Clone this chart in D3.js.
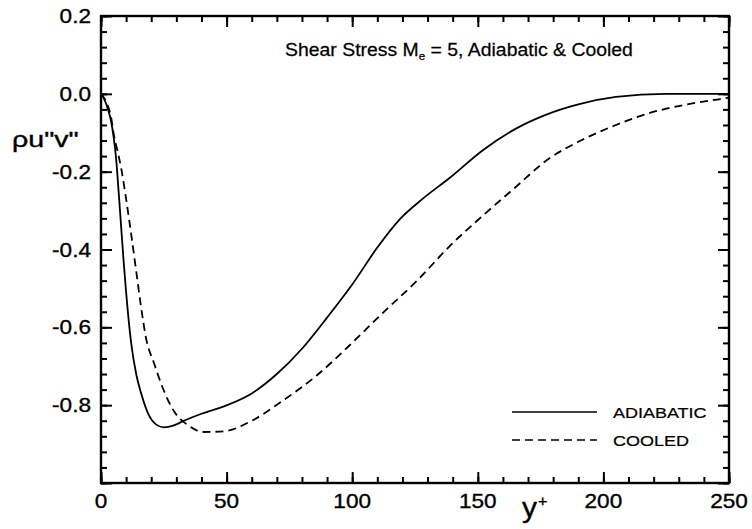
<!DOCTYPE html>
<html>
<head>
<meta charset="utf-8">
<script src="https://cdn.jsdelivr.net/npm/d3@7"></script>
<style>
  html, body { margin: 0; padding: 0; background: #fff; }
  svg { display: block; }
  text { font-family: "Liberation Sans", Arial, Helvetica, sans-serif; fill: #000; stroke: #000; stroke-width: 0.35px; }
</style>
</head>
<body>
<svg id="chart" width="752" height="529"></svg>
<script>
// ---- data ----
const adiabaticX = [0, 1, 2, 3, 4, 5, 6, 7, 8, 9, 10, 12, 14, 16, 19, 22, 25, 29, 33, 40, 49, 60, 70, 80, 90, 100, 110, 119, 128, 139, 152, 165, 177, 190, 205, 225, 250];
const adiabaticY = [0, -0.01, -0.025, -0.045, -0.07, -0.11, -0.165, -0.25, -0.34, -0.43, -0.51, -0.64, -0.72, -0.77, -0.825, -0.85, -0.857, -0.852, -0.84, -0.822, -0.803, -0.77, -0.72, -0.655, -0.575, -0.49, -0.395, -0.322, -0.27, -0.215, -0.145, -0.09, -0.054, -0.027, -0.008, 0.0, 0.0];
const cooledX = [0, 2, 4, 5.2, 6.5, 8, 10, 12, 14, 16, 18, 21, 24.6, 29, 34.5, 41, 49, 60, 72, 86, 99, 112, 126, 139, 152, 165, 178, 191, 205, 218, 231, 246, 250];
const cooledY = [0, -0.02, -0.06, -0.108, -0.145, -0.19, -0.27, -0.36, -0.455, -0.55, -0.63, -0.69, -0.756, -0.815, -0.851, -0.869, -0.867, -0.84, -0.79, -0.723, -0.646, -0.564, -0.479, -0.39, -0.313, -0.24, -0.168, -0.12, -0.08, -0.05, -0.03, -0.014, -0.01];

const xTickLabels = ["0", "50", "100", "150", "200", "250"];
const yTickLabels = ["0.2", "0.0", "-0.2", "-0.4", "-0.6", "-0.8"];
const seriesNames = ["ADIABATIC", "COOLED"];
const titleMain = "Shear Stress M";
const titleSub = "e";
const titleRest = " = 5, Adiabatic & Cooled";

// ---- layout ----
const svg = d3.select("#chart");
const pLeft = 101, pRight = 729, pTop = 16, pBottom = 483;
const x = d3.scaleLinear().domain([0, 250]).range([pLeft, pRight]);
const y = d3.scaleLinear().domain([-1.0, 0.2]).range([pBottom, pTop]);
const SX = 1.13; // horizontal stretch of the scanned lettering

function stext(g, px, py, str, size, anchor, sx) {
  return g.append("g").attr("transform", `translate(${px},${py}) scale(${sx || SX},1)`)
    .append("text").attr("font-size", size).attr("text-anchor", anchor || "start").text(str);
}

// ---- ticks (inward on all four sides) via d3 axes ----
const xMinor = d3.range(0, 251, 10);
const xMajor = xTickLabels.map(Number);
const yMinor = d3.range(0, 31).map(i => +(-1.0 + i * 0.04).toFixed(2));
const yMajor = [0.2, 0.0, -0.2, -0.4, -0.6, -0.8, -1.0];

function addAxis(gen, transform, vals, size) {
  const g = svg.append("g").attr("transform", transform)
    .call(gen.tickValues(vals).tickSizeInner(-size).tickSizeOuter(0).tickPadding(0).tickFormat(() => ""));
  g.selectAll(".tick line").attr("stroke", "#000").style("stroke", "#000").style("stroke-width", "2px");
  g.select(".domain").remove();
  return g;
}
addAxis(d3.axisBottom(x), `translate(0,${pBottom})`, xMinor, 6);
addAxis(d3.axisBottom(x), `translate(0,${pBottom})`, xMajor, 11);
addAxis(d3.axisTop(x), `translate(0,${pTop})`, xMinor, 6);
addAxis(d3.axisTop(x), `translate(0,${pTop})`, xMajor, 11);
addAxis(d3.axisLeft(y), `translate(${pLeft},0)`, yMinor, 6);
addAxis(d3.axisLeft(y), `translate(${pLeft},0)`, yMajor, 11);
addAxis(d3.axisRight(y), `translate(${pRight},0)`, yMinor, 6);
addAxis(d3.axisRight(y), `translate(${pRight},0)`, yMajor, 11);

// ---- frame ----
svg.append("rect").attr("x", pLeft).attr("y", pTop)
  .attr("width", pRight - pLeft).attr("height", pBottom - pTop)
  .attr("fill", "none").attr("stroke", "#000").attr("stroke-width", 2.4);

// tick labels
xTickLabels.forEach(s => stext(svg, x(+s), 508, s, 20, "middle"));
yTickLabels.forEach(s => stext(svg, pLeft - 10, y(+s) + 7, s, 20, "end"));

// ---- curves ----
const line = d3.line().x(d => x(d[0])).y(d => y(d[1])).curve(d3.curveMonotoneX);
const adiabatic = adiabaticX.map((v, i) => [v, adiabaticY[i]]);
const cooled = cooledX.map((v, i) => [v, cooledY[i]]);
svg.append("path").datum(adiabatic).attr("d", line)
  .attr("fill", "none").attr("stroke", "#000").attr("stroke-width", 1.8);
svg.append("path").datum(cooled).attr("d", line)
  .attr("fill", "none").attr("stroke", "#000").attr("stroke-width", 1.8)
  .attr("stroke-dasharray", "8,5");

// ---- title ----
const tg = svg.append("g").attr("transform", `translate(285,56) scale(1.05,1)`);
const tt = tg.append("text").attr("font-size", 18.5).style("stroke-width", "0.25px");
tt.append("tspan").text(titleMain);
tt.append("tspan").attr("font-size", 11).attr("dy", 4).text(titleSub);
tt.append("tspan").attr("dy", -4).text(titleRest);

// ---- axis titles ----
stext(svg, 12, 147, "\u03C1u\"v\"", 22, "start", 1.3);
const xl = svg.append("g").attr("transform", `translate(522,517) scale(1.07,1)`)
  .append("text").attr("font-size", 28);
xl.append("tspan").text("y");
xl.append("tspan").attr("font-size", 15).attr("dy", -11).attr("dx", 1).text("+");

// ---- legend ----
const legY = [412, 440];
const legDash = [null, "8,5"];
seriesNames.forEach((name, i) => {
  svg.append("line").attr("x1", 512).attr("x2", 597).attr("y1", legY[i]).attr("y2", legY[i])
    .attr("stroke", "#000").attr("stroke-width", 1.6)
    .attr("stroke-dasharray", legDash[i]);
  stext(svg, 613, legY[i] + 6, name, 15, "start", 1.2).style("stroke-width", "0.2px");
});
</script>
</body>
</html>
